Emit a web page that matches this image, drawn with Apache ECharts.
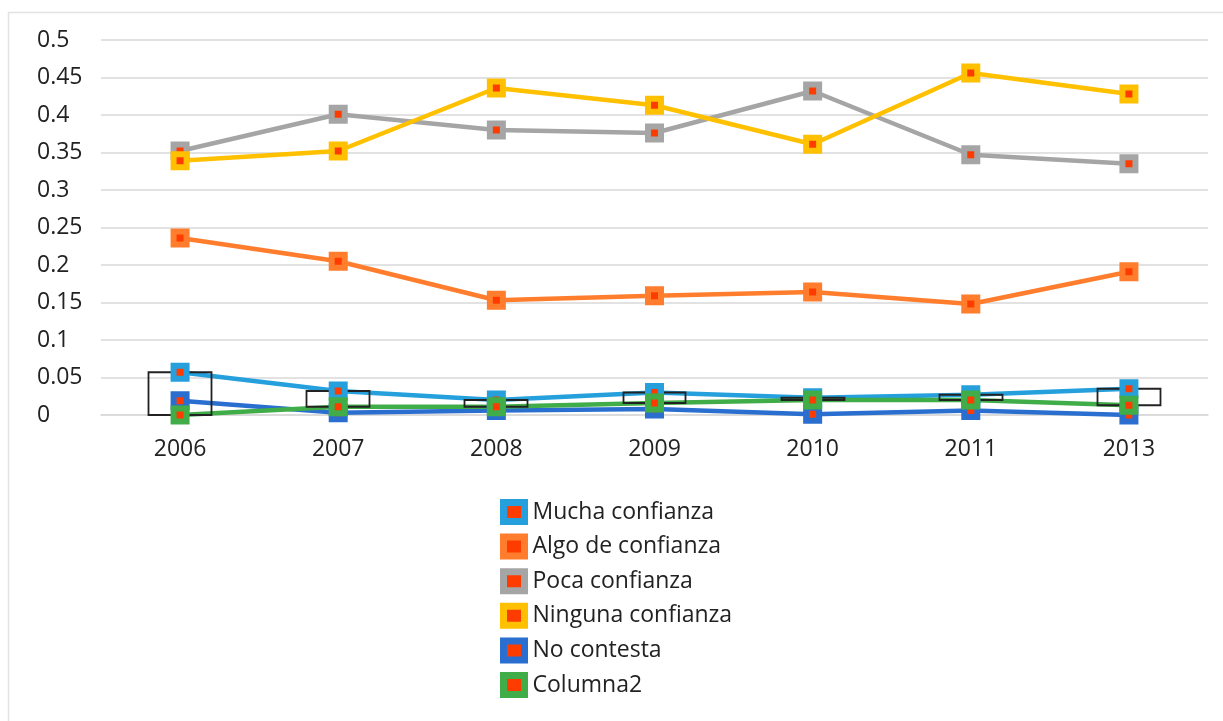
<!DOCTYPE html>
<html>
<head>
<meta charset="utf-8">
<script src="https://cdn.jsdelivr.net/npm/echarts@6/dist/echarts.min.js"></script>
<style>
  html, body { margin: 0; padding: 0; background: #fff; }
  #chart { width: 1223px; height: 721px; }
</style>
</head>
<body>
<div id="chart"></div>
<script>
// data
var years = ['2006', '2007', '2008', '2009', '2010', '2011', '2013'];
var mucha = [0.057, 0.032, 0.020, 0.030, 0.023, 0.027, 0.035];
var algo = [0.236, 0.205, 0.153, 0.159, 0.164, 0.148, 0.191];
var poca = [0.352, 0.401, 0.380, 0.376, 0.432, 0.347, 0.335];
var ninguna = [0.339, 0.352, 0.436, 0.413, 0.361, 0.456, 0.428];
var noContesta = [0.019, 0.003, 0.006, 0.008, 0.001, 0.006, 0.0];
var columna2 = [0.0, 0.011, 0.011, 0.016, 0.020, 0.020, 0.013];

var names = ['Mucha confianza', 'Algo de confianza', 'Poca confianza', 'Ninguna confianza', 'No contesta', 'Columna2'];
var colors = ['#25a0dc', '#ff7d2c', '#a5a5a5', '#ffc000', '#2a6fcf', '#40ad48'];
var values = [mucha, algo, poca, ninguna, noContesta, columna2];

var font = '"Open Sans", "Noto Sans", sans-serif';

// lines go under the up/down boxes, markers on top of them
function lineOnly(i) {
  return {
    type: 'line',
    data: values[i],
    z: 1,
    showSymbol: false,
    lineStyle: { color: colors[i], width: 4.5 },
    silent: true
  };
}
function markers(i) {
  return {
    name: names[i],
    type: 'line',
    data: values[i],
    z: 4,
    symbol: 'rect',
    symbolSize: 13,
    lineStyle: { color: colors[i], width: 0, opacity: 0 },
    itemStyle: { color: '#ff3c00', borderColor: colors[i], borderWidth: 6 },
    emphasis: { disabled: true }
  };
}

// up/down bars between the first and the last series
var upDown = years.map(function (y, k) {
  var a = mucha[k], b = columna2[k];
  return [a, b, Math.min(a, b), Math.max(a, b)];
});

var series = [];
for (var i = 0; i < names.length; i++) series.push(lineOnly(i));
series.push({
  type: 'candlestick',
  data: upDown,
  z: 2,
  barWidth: '40%',
  itemStyle: {
    color: 'rgba(255,255,255,0)', color0: 'rgba(255,255,255,0)',
    borderColor: '#222', borderColor0: '#222', borderWidth: 1.8
  },
  silent: true
});
for (var j = 0; j < names.length; j++) series.push(markers(j));

var chart = echarts.init(document.getElementById('chart'));
chart.setOption({
  animation: false,
  backgroundColor: '#fff',
  graphic: [{
    type: 'polyline',
    shape: { points: [[8.5, 730], [8.5, 12.5], [1230, 12.5]] },
    style: { stroke: '#e2e2e2', lineWidth: 1.5, fill: null }
  }],
  grid: { left: 101, right: 15, top: 40, height: 375 },
  xAxis: {
    type: 'category',
    data: years,
    axisLine: { lineStyle: { color: '#d9d9d9', width: 1.5 } },
    axisTick: { show: false },
    axisLabel: { color: '#222', fontSize: 23, fontFamily: font, margin: 23 }
  },
  yAxis: {
    type: 'value',
    min: 0, max: 0.5, interval: 0.05,
    axisLine: { show: false },
    axisTick: { show: false },
    splitLine: { lineStyle: { color: '#d9d9d9', width: 1.5 } },
    axisLabel: {
      color: '#222', fontSize: 23, fontFamily: font, align: 'left', margin: 64,
      formatter: function (v) { return String(Math.round(v * 100) / 100); }
    }
  },
  legend: {
    data: names,
    orient: 'vertical',
    left: 495, top: 494,
    itemGap: 8.6,
    itemWidth: 21, itemHeight: 19,
    icon: 'rect',
    itemStyle: { borderWidth: 7 },
    textStyle: { color: '#222', fontSize: 23, lineHeight: 26, fontFamily: font, padding: [0, 0, 0, 3] }
  },
  series: series
});
</script>
</body>
</html>
